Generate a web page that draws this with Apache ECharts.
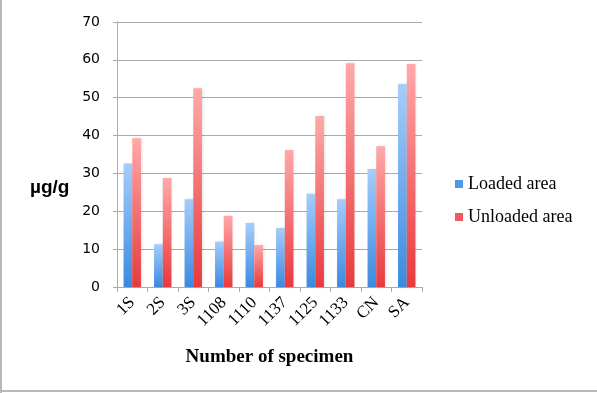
<!DOCTYPE html>
<html><head><meta charset="utf-8">
<script src="https://cdn.jsdelivr.net/npm/echarts@6/dist/echarts.min.js"></script>
<style>html,body{margin:0;padding:0;background:#fff}#c{width:597px;height:393px}</style>
</head><body><div id="c"></div>
<script>
var categories = ['1S','2S','3S','1108','1110','1137','1125','1133','CN','SA'];
var loaded = [32.6, 11.3, 23.2, 12.0, 16.9, 15.6, 24.6, 23.2, 31.2, 53.6];
var unloaded = [39.3, 28.8, 52.5, 18.8, 11.1, 36.2, 45.2, 59.1, 37.2, 58.9];
var yTicks = [0,10,20,30,40,50,60,70];

var chart = echarts.init(document.getElementById('c'), null, {renderer:'canvas'});
function grad(top, bottom){
  return new echarts.graphic.LinearGradient(0,0,0,1,[{offset:0,color:top},{offset:1,color:bottom}]);
}
chart.setOption({
  animation:false,
  backgroundColor:'#fff',
  graphic:[
    {type:'rect', shape:{x:0,y:0,width:2,height:393}, style:{fill:'#b8b8b8'}},
    {type:'rect', shape:{x:0,y:390,width:597,height:2}, style:{fill:'#b8b8b8'}},
    {type:'text', left:30, top:178, style:{text:'µg/g', fontFamily:'Liberation Sans', fontWeight:'bold', fontSize:19, fill:'#000'}}
  ],
  grid:{left:117, right:175, top:22, bottom:106},
  legend:{
    orient:'vertical', left:450, top:170, itemWidth:8, itemHeight:8, itemGap:15,
    icon:'rect',
    textStyle:{fontFamily:'Liberation Serif', fontSize:18, color:'#000'},
    data:[
      {name:'Loaded area', itemStyle:{color:'#4f9be8'}},
      {name:'Unloaded area', itemStyle:{color:'#f05a5e'}}
    ]
  },
  xAxis:{
    type:'category', data:categories,
    name:'Number of specimen', nameLocation:'middle', nameGap:61,
    nameTextStyle:{fontFamily:'Liberation Serif', fontWeight:'bold', fontSize:19, color:'#000'},
    axisLine:{lineStyle:{color:'#aaa', width:1}},
    axisTick:{show:true, length:5, lineStyle:{color:'#aaa'}},
    axisLabel:{rotate:45, fontFamily:'Liberation Serif', fontSize:17, color:'#000', margin:13, interval:0}
  },
  yAxis:{
    type:'value', min:0, max:70, interval:10,
    axisLine:{show:true, lineStyle:{color:'#aaa'}},
    axisTick:{show:true, length:4, lineStyle:{color:'#aaa'}},
    splitLine:{lineStyle:{color:'#aaa', width:1}},
    axisLabel:{fontFamily:'DejaVu Sans', fontSize:14, color:'#000', margin:17,
      formatter:function(v){return yTicks.indexOf(v)>=0 ? String(v) : '';}}
  },
  series:[
    {name:'Loaded area', type:'bar', data:loaded, barGap:'0%', barCategoryGap:'43%',
     itemStyle:{color:grad('#a6cdfb','#3a8ae0'), shadowColor:'rgba(0,0,0,0.12)', shadowBlur:3, shadowOffsetX:1}},
    {name:'Unloaded area', type:'bar', data:unloaded, barGap:'0%', barCategoryGap:'43%',
     itemStyle:{color:grad('#ffa9a9','#e8393d'), shadowColor:'rgba(0,0,0,0.12)', shadowBlur:3, shadowOffsetX:1}}
  ]
});
</script></body></html>
